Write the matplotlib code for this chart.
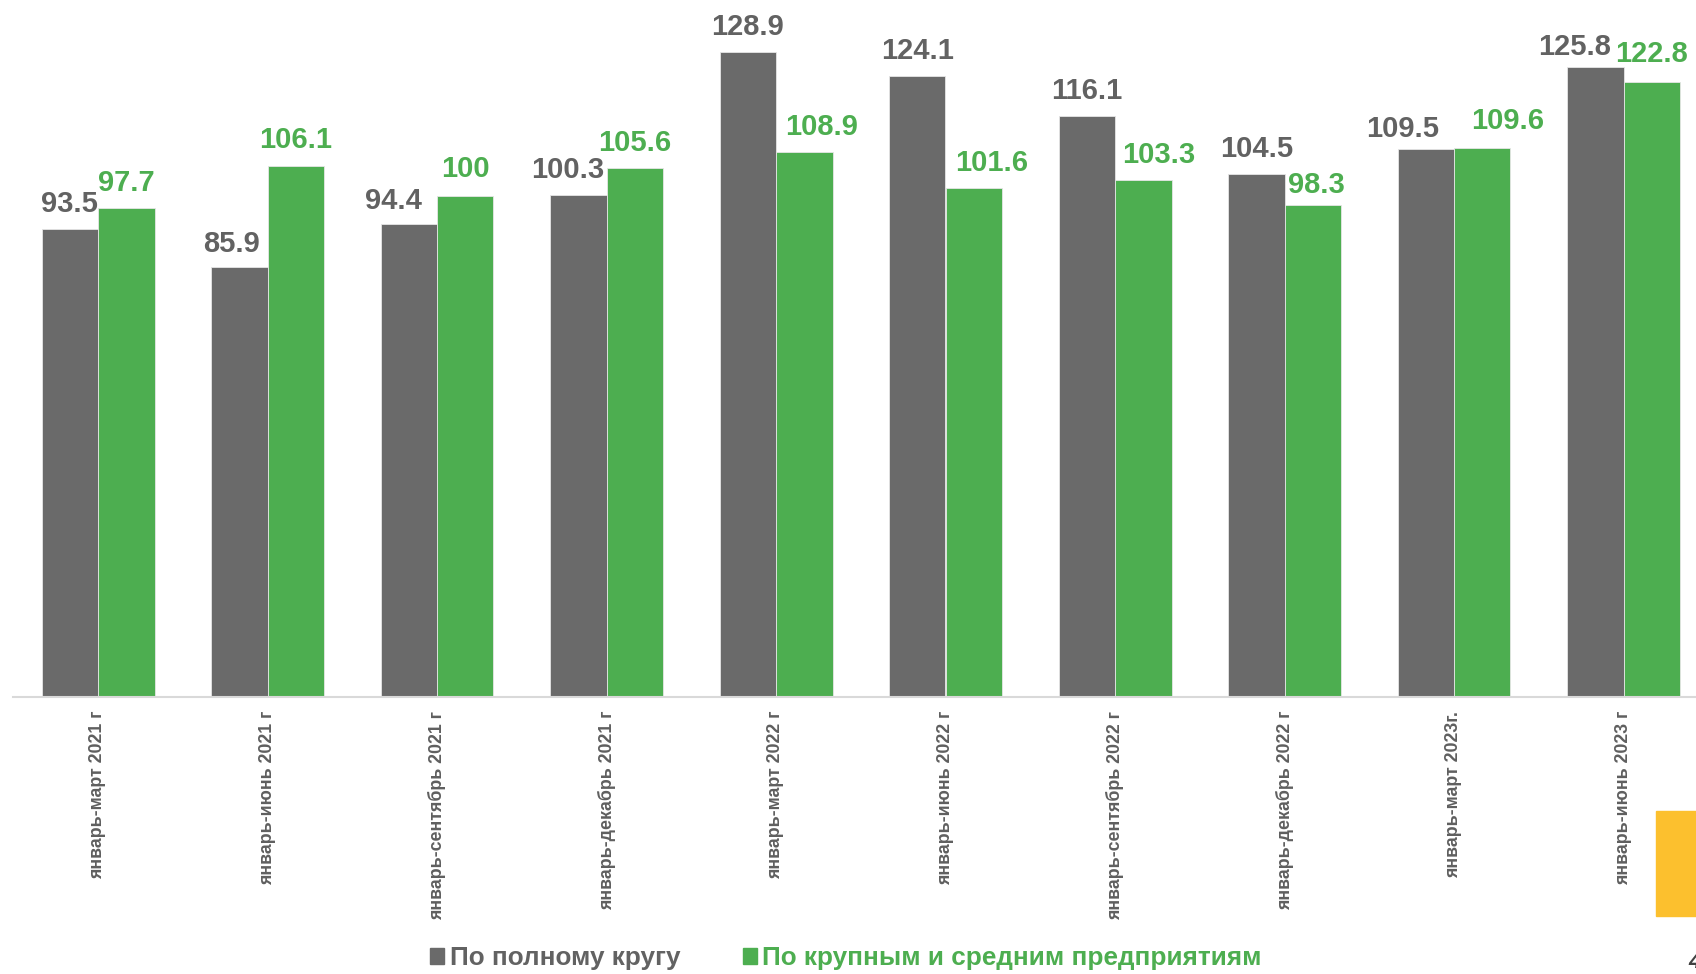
import matplotlib
matplotlib.use("Agg")
import matplotlib.pyplot as plt
from matplotlib.patches import Rectangle
import numpy as np

plt.rcParams['font.family'] = ['Liberation Sans', 'DejaVu Sans']

periods = ['январь-март 2021 г', 'январь-июнь 2021 г', 'январь-сентябрь 2021 г',
           'январь-декабрь 2021 г', 'январь-март 2022 г', 'январь-июнь 2022 г',
           'январь-сентябрь 2022 г', 'январь-декабрь 2022 г', 'январь-март 2023г.',
           'январь-июнь 2023 г']
full_circle = [93.5, 85.9, 94.4, 100.3, 128.9, 124.1, 116.1, 104.5, 109.5, 125.8]
large_medium = [97.7, 106.1, 100, 105.6, 108.9, 101.6, 103.3, 98.3, 109.6, 122.8]
legend_names = ['По полному кругу', 'По крупным и средним предприятиям']

# label nudges in pixels (as placed on the original slide)
gray_dx = [0, -8, -15, -11, 0, 0, 0, 0, -23, -21]
gray_dy = [17, 15, 15, 17, 17, 17, 17, 17, 12, 12]
green_dx = [0, 0, 0, 0, 17, 18, 15, 4, 25, 0]
green_dy = [17, 18, 19, 17, 17, 17, 17, 12, 19, 20]

GRAY = '#6A6A6A'
GRAY_TXT = '#626262'
GREEN = '#4DAE50'

W, H = 1696, 974
fig = plt.figure(figsize=(W / 100, H / 100), dpi=100)

step = 169.5
left_px = 98 - step / 2
ax = fig.add_axes([left_px / W, (H - 697) / H, 10 * step / W, 136 * 5.007 / H])

x = np.arange(len(periods))
bw = 1 / 3
ax.bar(x - bw / 2, full_circle, bw, color=GRAY, edgecolor='#e6e6e6', linewidth=0.6)
ax.bar(x + bw / 2, large_medium, bw, color=GREEN, edgecolor='#e6e6e6', linewidth=0.6)

ax.set_xlim(-0.5, len(periods) - 0.5)
ax.set_ylim(0, 136)

for i in range(len(periods)):
    ax.annotate(f'{full_circle[i]:g}', (x[i] - bw / 2, full_circle[i]),
                xytext=(gray_dx[i] * 0.72, gray_dy[i] * 0.72), textcoords='offset points',
                ha='center', va='baseline', fontsize=21, fontweight='bold', color=GRAY_TXT)
    ax.annotate(f'{large_medium[i]:g}', (x[i] + bw / 2, large_medium[i]),
                xytext=(green_dx[i] * 0.72, green_dy[i] * 0.72), textcoords='offset points',
                ha='center', va='baseline', fontsize=21, fontweight='bold', color=GREEN)

for s in ['top', 'right', 'left']:
    ax.spines[s].set_visible(False)
ax.spines['bottom'].set_color('#D9D9D9')
ax.spines['bottom'].set_linewidth(1.5)
ax.set_yticks([])
ax.set_xticks(x)
ax.set_xticklabels(periods, rotation=90, fontsize=12.8, fontweight='bold', color='#5f5f5f')
ax.tick_params(axis='x', length=0, pad=10)

handles = [Rectangle((0, 0), 1, 1, color=GRAY), Rectangle((0, 0), 1, 1, color=GREEN)]
fig.legend(handles, legend_names, loc='center', bbox_to_anchor=(0.4988, 0.0164), ncol=2,
           frameon=False, prop={'size': 18.8, 'weight': 'bold'}, labelcolor=[GRAY_TXT, GREEN],
           handlelength=0.55, handleheight=0.55, handletextpad=0.2, columnspacing=2.4)

# yellow badge cut off at the right edge
fig.patches.append(Rectangle((1656 / W, (H - 916) / H), 40 / W, 105 / H,
                             transform=fig.transFigure, color='#FCC02E'))
fig.text(1688 / W, (H - 968) / H, '4', fontsize=16, fontstyle='italic', fontweight='bold',
         color='#404040', ha='left', va='baseline')

fig.savefig('out.png', dpi=100)
